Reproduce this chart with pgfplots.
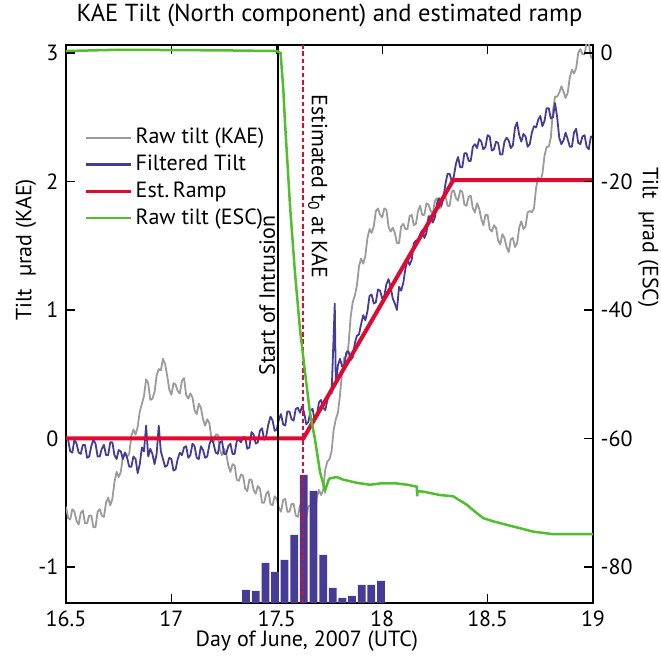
\documentclass[border=0pt]{standalone}
\usepackage{fontspec}
\setmainfont{PT Sans}
\usepackage{pgfplots}
\pgfplotsset{compat=1.18}
\definecolor{rawgray}{RGB}{155,155,155}
\definecolor{filtblue}{RGB}{70,60,150}
\definecolor{rampred}{RGB}{222,10,50}
\definecolor{escgreen}{RGB}{82,190,46}
\begin{document}
\fontsize{11}{13}\selectfont
\begin{tikzpicture}
\useasboundingbox (-33pt,-26.5pt) rectangle (297.5pt,301.5pt);
\pgfplotsset{every axis/.append style={scale only axis, width=263.5pt, height=279pt,
  xmin=16.5, xmax=19, axis line style={line width=0.6pt},
  /pgf/number format/assume math mode=true,
  tick style={line width=0.6pt, black}, tick align=inside,
  font=\fontsize{11}{13}\selectfont}}
% ---------- main (left) axis ----------
\begin{axis}[ymin=-1.28, ymax=3.062,
  xtick={16.5,17,17.5,18,18.5,19}, xtick pos=both, xticklabel pos=lower,
  ytick={-1,0,1,2,3}, ytick pos=left,
  xlabel={Day of June, 2007 (UTC)},
  xlabel style={at={(axis description cs:0.457,0)}, anchor=center, yshift=-19pt},
  every axis y label/.style={at={(axis description cs:-0.076,0.633)}, anchor=center, rotate=90},
  ylabel={Tilt\ \ µrad (KAE)},
  title={KAE Tilt (North component) and estimated ramp},
  title style={at={(axis description cs:0.5,1)}, anchor=base, yshift=5.5pt, font=\fontsize{12.3}{15}\selectfont},
  legend style={at={(axis description cs:0.023,0.866)}, anchor=north west, draw=none, fill=none,
    font=\fontsize{11}{13}\selectfont, row sep=0pt},
  legend cell align=left,
  legend image code/.code={\draw[#1, line width=1.1pt] (0pt,0pt) -- (22.5pt,0pt);},
]
\addplot[rawgray, line width=0.9pt, line join=round] table {
16.50 -0.53
16.51 -0.62
16.52 -0.63
16.53 -0.55
16.54 -0.57
16.55 -0.64
16.56 -0.67
16.57 -0.58
16.58 -0.56
16.59 -0.66
16.60 -0.66
16.61 -0.60
16.62 -0.60
16.63 -0.69
16.64 -0.69
16.65 -0.57
16.66 -0.55
16.67 -0.60
16.68 -0.61
16.69 -0.50
16.70 -0.46
16.71 -0.52
16.72 -0.47
16.73 -0.34
16.74 -0.26
16.75 -0.30
16.76 -0.26
16.77 -0.14
16.78 -0.11
16.79 -0.14
16.80 -0.12
16.81 0.02
16.82 0.07
16.83 0.03
16.84 0.09
16.85 0.21
16.86 0.27
16.87 0.33
16.88 0.46
16.89 0.43
16.90 0.30
16.91 0.31
16.92 0.36
16.93 0.49
16.94 0.54
16.95 0.53
16.96 0.62
16.97 0.58
16.98 0.49
16.99 0.38
17.00 0.34
17.01 0.43
17.02 0.42
17.03 0.37
17.04 0.35
17.05 0.45
17.06 0.47
17.07 0.34
17.08 0.31
17.09 0.35
17.10 0.32
17.11 0.22
17.12 0.19
17.13 0.27
17.14 0.24
17.15 0.15
17.16 0.10
17.17 0.15
17.18 0.12
17.19 0.00
17.20 -0.03
17.21 0.03
17.22 0.03
17.23 -0.09
17.24 -0.13
17.25 -0.08
17.26 -0.12
17.27 -0.21
17.28 -0.26
17.29 -0.20
17.30 -0.21
17.31 -0.32
17.32 -0.33
17.33 -0.28
17.34 -0.29
17.35 -0.39
17.36 -0.41
17.37 -0.32
17.38 -0.32
17.39 -0.40
17.40 -0.43
17.41 -0.37
17.42 -0.39
17.43 -0.50
17.44 -0.50
17.45 -0.43
17.46 -0.41
17.47 -0.51
17.48 -0.52
17.49 -0.45
17.50 -0.47
17.51 -0.54
17.52 -0.57
17.53 -0.48
17.54 -0.47
17.55 -0.57
17.56 -0.57
17.57 -0.51
17.58 -0.51
17.59 -0.60
17.60 -0.61
17.61 -0.52
17.62 -0.53
17.63 -0.59
17.64 -0.61
17.65 -0.53
17.66 -0.52
17.67 -0.60
17.68 -0.58
17.69 -0.46
17.70 -0.40
17.71 -0.44
17.72 -0.40
17.73 -0.24
17.74 -0.18
17.75 -0.16
17.76 -0.10
17.77 0.07
17.78 0.15
17.79 0.20
17.80 0.34
17.81 0.52
17.82 0.63
17.83 0.64
17.84 0.72
17.85 0.94
17.86 1.06
17.87 1.11
17.88 1.19
17.89 1.34
17.90 1.40
17.91 1.36
17.92 1.42
17.93 1.56
17.94 1.63
17.95 1.60
17.96 1.65
17.97 1.77
17.98 1.79
17.99 1.74
18.00 1.72
18.01 1.79
18.02 1.78
18.03 1.65
18.04 1.61
18.05 1.64
18.06 1.60
18.07 1.52
18.08 1.52
18.09 1.65
18.10 1.67
18.11 1.63
18.12 1.63
18.13 1.73
18.14 1.74
18.15 1.66
18.16 1.67
18.17 1.77
18.18 1.81
18.19 1.74
18.20 1.74
18.21 1.83
18.22 1.82
18.23 1.77
18.24 1.75
18.25 1.85
18.26 1.87
18.27 1.79
18.28 1.80
18.29 1.88
18.30 1.89
18.31 1.81
18.32 1.81
18.33 1.92
18.34 1.93
18.35 1.87
18.36 1.85
18.37 1.93
18.38 1.92
18.39 1.82
18.40 1.81
18.41 1.88
18.42 1.89
18.43 1.79
18.44 1.76
18.45 1.83
18.46 1.79
18.47 1.71
18.48 1.66
18.49 1.74
18.50 1.74
18.51 1.63
18.52 1.61
18.53 1.66
18.54 1.64
18.55 1.54
18.56 1.51
18.57 1.59
18.58 1.56
18.59 1.49
18.60 1.45
18.61 1.55
18.62 1.56
18.63 1.49
18.64 1.52
18.65 1.64
18.66 1.69
18.67 1.63
18.68 1.65
18.69 1.76
18.70 1.77
18.71 1.76
18.72 1.79
18.73 1.95
18.74 2.03
18.75 2.00
18.76 2.06
18.77 2.20
18.78 2.27
18.79 2.27
18.80 2.34
18.81 2.55
18.82 2.66
18.83 2.66
18.84 2.69
18.85 2.74
18.86 2.70
18.87 2.65
18.88 2.69
18.89 2.81
18.90 2.87
18.91 2.84
18.92 2.88
18.93 3.00
18.94 3.03
18.95 2.99
18.96 2.99
18.97 3.08
18.98 3.08
18.99 2.97
19.00 2.95
};
\addlegendentry{Raw tilt (KAE)}
\addplot[filtblue, line width=0.9pt, line join=round] table {
16.50 0.01
16.51 -0.01
16.52 -0.10
16.53 -0.11
16.54 -0.01
16.55 -0.04
16.56 -0.11
16.57 -0.12
16.58 -0.05
16.59 -0.05
16.60 -0.15
16.61 -0.14
16.62 -0.06
16.63 -0.01
16.64 -0.04
16.65 -0.14
16.66 -0.14
16.67 -0.08
16.68 -0.05
16.69 -0.13
16.70 -0.13
16.71 -0.03
16.72 -0.03
16.73 -0.13
16.74 -0.16
16.75 -0.09
16.76 -0.10
16.77 -0.16
16.78 -0.11
16.79 -0.15
16.80 -0.22
16.81 -0.22
16.82 -0.14
16.83 -0.16
16.84 -0.27
16.85 -0.20
16.86 -0.07
16.87 -0.10
16.88 0.10
16.89 -0.14
16.90 -0.08
16.91 -0.12
16.92 -0.20
16.93 -0.12
16.94 0.10
16.95 -0.10
16.96 -0.16
16.97 -0.22
16.98 -0.21
16.99 -0.15
17.00 -0.16
17.01 -0.25
17.02 -0.24
17.03 -0.16
17.04 -0.11
17.05 -0.13
17.06 -0.07
17.07 -0.06
17.08 -0.15
17.09 -0.13
17.10 -0.04
17.11 -0.06
17.12 -0.15
17.13 -0.16
17.14 -0.06
17.15 -0.09
17.16 -0.15
17.17 -0.14
17.18 -0.05
17.19 0.00
17.20 -0.04
17.21 -0.11
17.22 -0.12
17.23 -0.03
17.24 -0.02
17.25 -0.12
17.26 -0.12
17.27 -0.06
17.28 -0.04
17.29 -0.12
17.30 -0.12
17.31 -0.02
17.32 -0.01
17.33 -0.03
17.34 0.01
17.35 0.01
17.36 -0.08
17.37 -0.07
17.38 0.05
17.39 0.03
17.40 -0.04
17.41 -0.03
17.42 0.06
17.43 0.08
17.44 -0.01
17.45 0.02
17.46 0.11
17.47 0.17
17.48 0.14
17.49 0.06
17.50 0.07
17.51 0.15
17.52 0.19
17.53 0.11
17.54 0.10
17.55 0.21
17.56 0.21
17.57 0.15
17.58 0.14
17.59 0.23
17.60 0.24
17.61 0.20
17.62 0.25
17.63 0.20
17.64 0.11
17.65 0.13
17.66 0.22
17.67 0.23
17.68 0.14
17.69 0.18
17.70 0.28
17.71 0.30
17.72 0.24
17.73 0.22
17.74 0.30
17.75 0.35
17.76 0.35
17.775 1.05
17.78 0.42
17.79 0.57
17.80 0.62
17.81 0.56
17.82 0.57
17.83 0.67
17.84 0.68
17.85 0.61
17.86 0.63
17.87 0.74
17.88 0.80
17.89 0.81
17.90 0.89
17.91 0.96
17.92 0.92
17.93 0.99
17.94 1.11
17.95 1.12
17.96 1.05
17.97 1.06
17.98 1.16
17.99 1.15
18.00 1.09
18.01 1.11
18.02 1.20
18.03 1.24
18.04 1.18
18.05 1.09
18.06 1.05
18.07 1.00
18.08 1.18
18.09 1.15
18.10 1.21
18.11 1.32
18.12 1.39
18.13 1.35
18.14 1.39
18.15 1.52
18.16 1.54
18.17 1.54
18.18 1.59
18.19 1.62
18.20 1.56
18.21 1.60
18.22 1.73
18.23 1.73
18.24 1.68
18.25 1.72
18.26 1.83
18.27 1.87
18.28 1.81
18.29 1.87
18.30 1.98
18.31 2.06
18.32 2.06
18.33 2.00
18.34 2.04
18.35 2.14
18.36 2.19
18.37 2.11
18.38 2.11
18.39 2.22
18.40 2.22
18.41 2.16
18.42 2.16
18.43 2.27
18.44 2.29
18.45 2.26
18.46 2.33
18.47 2.31
18.48 2.25
18.49 2.27
18.50 2.36
18.51 2.35
18.52 2.24
18.53 2.25
18.54 2.31
18.55 2.30
18.56 2.21
18.57 2.21
18.58 2.31
18.59 2.34
18.60 2.32
18.61 2.26
18.62 2.28
18.63 2.42
18.64 2.46
18.65 2.36
18.66 2.31
18.67 2.37
18.68 2.35
18.69 2.27
18.70 2.29
18.71 2.38
18.72 2.43
18.73 2.42
18.74 2.48
18.75 2.51
18.76 2.43
18.77 2.47
18.78 2.57
18.79 2.57
18.80 2.49
18.81 2.50
18.82 2.61
18.83 2.50
18.84 2.34
18.85 2.29
18.86 2.32
18.87 2.38
18.88 2.33
18.89 2.27
18.90 2.27
18.91 2.38
18.92 2.41
18.93 2.30
18.94 2.29
18.95 2.35
18.96 2.36
18.97 2.27
18.98 2.25
18.99 2.35
19.00 2.34
};
\addlegendentry{Filtered Tilt}
\addplot[rampred, line width=2pt] coordinates {(16.5,0) (17.626,0) (18.337,2.01) (19,2.01)};
\addlegendentry{Est.\,Ramp}
\addlegendimage{escgreen, line width=1.25pt}
\addlegendentry{Raw tilt (ESC)}
\addplot[black, line width=0.6pt, forget plot] coordinates {(17.506,-1.28) (17.506,3.062)};
\node[rotate=90, anchor=west] at (axis cs:17.454,0.43) {Start of Intrusion};
\node[rotate=-90, anchor=west] at (axis cs:17.695,2.735) {Estimated t\textsubscript{0} at KAE};
\end{axis}
% ---------- histogram axis ----------
\begin{axis}[hide axis, ymin=0, ymax=558]
\addplot[ybar, bar width=0.037, fill=filtblue, draw=none] coordinates {
(17.354,13) (17.400,12) (17.446,40) (17.491,31) (17.537,43) (17.583,68) (17.628,128)
(17.674,112) (17.720,48) (17.765,15) (17.811,5) (17.857,7) (17.903,18) (17.948,18) (17.994,22)};
\end{axis}
% ---------- right axis ----------
\begin{axis}[ymin=-85.6, ymax=1.24, axis x line=none, axis y line*=right,
  ytick={-80,-60,-40,-20,0},
  every axis y label/.style={at={(axis description cs:1.105,0.655)}, anchor=center, rotate=-90},
  ylabel={Tilt\ \ µrad (ESC)}]
\addplot[color=rampred, line width=1pt, dash pattern=on 2.2pt off 1.4pt] coordinates {(17.626,-85.6) (17.626,1.24)};
\addplot[escgreen, line width=1.25pt] coordinates {
(16.50,0.3) (16.75,0.5) (17.0,0.45) (17.25,0.4) (17.50,0.3) (17.518,0.0) (17.531,-5.7)
(17.539,-10.9) (17.563,-23.9) (17.586,-34.1) (17.610,-43.0) (17.634,-49.7) (17.657,-55.9)
(17.681,-60.1) (17.705,-65.2) (17.729,-68.1) (17.745,-66.5) (17.752,-66.2) (17.784,-66.0)
(17.815,-66.4) (17.88,-66.9) (17.942,-67.2) (17.990,-67.0) (18.069,-67.0) (18.12,-67.2)
(18.164,-67.5) (18.166,-69.0) (18.168,-68.2) (18.20,-68.3) (18.274,-68.8) (18.337,-69.0)
(18.401,-70.3) (18.448,-71.6) (18.480,-72.4) (18.527,-72.9) (18.622,-73.7) (18.717,-74.5)
(18.812,-74.9) (18.970,-74.9) (19.0,-74.9)};
\end{axis}
\end{tikzpicture}
\end{document}
